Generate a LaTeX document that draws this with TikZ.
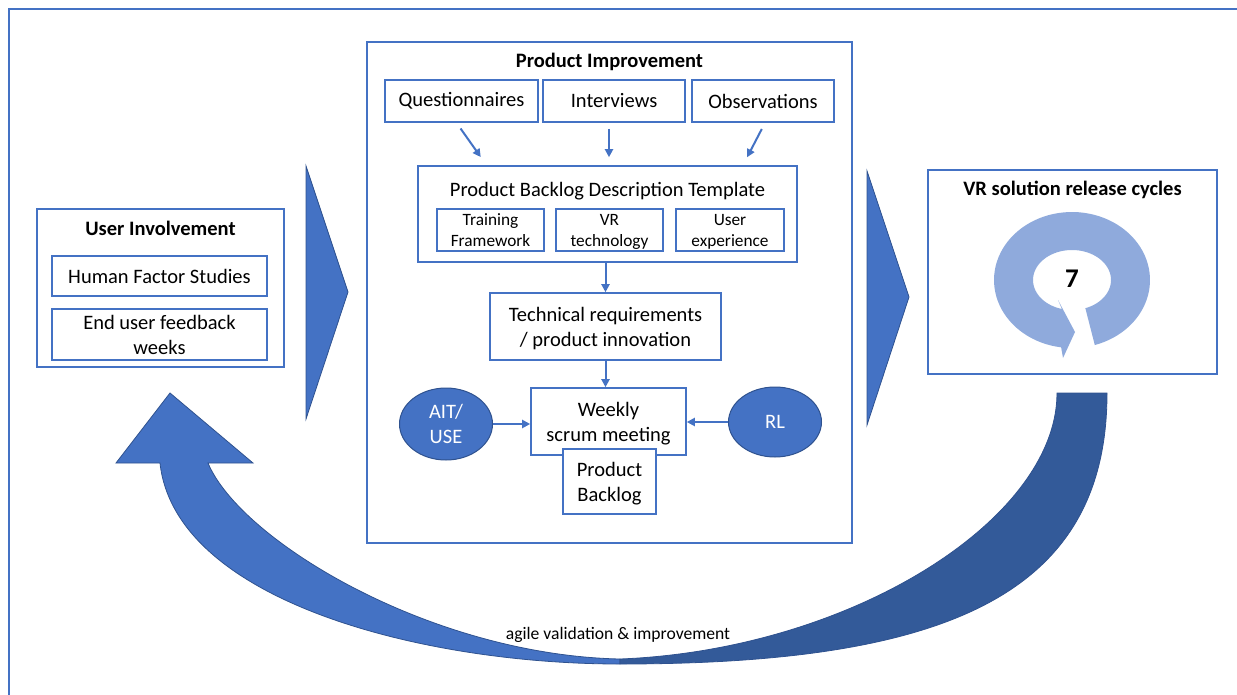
\documentclass[tikz,border=0pt]{standalone}
\usepackage{fontspec}
\setmainfont{Carlito}
\usetikzlibrary{arrows.meta,shapes.geometric}
\definecolor{frameblue}{HTML}{4472C4}
\definecolor{boxline}{HTML}{4472C4}
\definecolor{accent}{HTML}{4472C4}
\definecolor{accentline}{HTML}{2F528F}
\definecolor{darkarm}{HTML}{335A99}
\definecolor{ringblue}{HTML}{8FAADC}
\newcommand\fbig{\fontsize{20.5}{25}\selectfont}
\newcommand\fsmall{\fontsize{17.3}{21}\selectfont}

\begin{document}
\begin{tikzpicture}[x=1pt,y=-1pt,
  box/.style={draw=boxline,line width=1.6pt,fill=white,inner sep=0pt,align=center,font=\fbig},
  title/.style={inner sep=0pt,font=\fbig\bfseries},
  flow/.style={draw=boxline,line width=2pt,-{Triangle[length=8pt,width=8pt]}},
  blob/.style={ellipse,draw=accentline,line width=1pt,fill=accent,text=white,inner sep=0pt,align=center,font=\fbig,minimum width=93pt},
  chev/.style={fill=accent,draw=accentline,line width=0.8pt}]
\useasboundingbox (0,0) rectangle (1237,694);
\clip (0,0) rectangle (1237,694);
\draw[frameblue,line width=2pt] (9,9) rectangle (1260,720);

% user side
\node[box,minimum width=247pt,minimum height=158pt] (ui) at (160.5,288) {};
\node[title] (uititle) at (160.5,228) {User Involvement};
\node[box,minimum width=215pt,minimum height=40pt] (hfs) at (159.5,276) {Human Factor Studies};
\node[box,minimum width=215pt,minimum height=51pt] (euf) at (159.5,334.5) {End user feedback\\weeks};

% big shapes
\filldraw[chev] (306,166) -- (348,292) -- (306,419) -- cycle;
\filldraw[chev] (867,171) -- (909,297) -- (867,425) -- cycle;
\filldraw[chev] (620,664) .. controls (420,664) and (175,600) .. (160,463) -- (116,463) -- (170,393) -- (253,463) -- (208,463) .. controls (240,540) and (430,655) .. (620,659) -- cycle;
\filldraw[chev,fill=darkarm] (620,659) .. controls (850,650) and (1057,520) .. (1057,393) -- (1107,393) .. controls (1107,593) and (950,664) .. (620,664) -- cycle;
\node[font=\fontsize{17.6}{20}\selectfont,inner sep=0pt] (agile) at (618,635) {agile validation \& improvement};

% product improvement
\node[box,minimum width=485pt,minimum height=501pt] (pi) at (609.5,292.5) {};
\node[title] (pititle) at (609.5,62) {Product Improvement};
\node[box,minimum width=153pt,minimum height=42pt] (quest) at (461.5,101) {Questionnaires};
\node[box,minimum width=142pt,minimum height=42pt] (intv) at (614,101) {Interviews};
\node[box,minimum width=142pt,minimum height=42pt] (obs) at (763,101) {Observations};
\node[box,minimum width=379pt,minimum height=96pt] (pbdt) at (607.5,214) {};
\node[inner sep=0pt,font=\fbig] (pbdttitle) at (607.5,191) {Product Backlog Description Template};
\node[box,font=\fsmall,text depth=0pt,minimum width=107pt,minimum height=42pt] (tf) at (490.5,230) {Training\\Framework};
\node[box,font=\fsmall,text depth=0pt,minimum width=107pt,minimum height=42pt] (vrt) at (609.5,230) {VR\\technology};
\node[box,font=\fsmall,text depth=0pt,minimum width=108pt,minimum height=42pt] (ux) at (730,230) {User\\experience};
\node[box,text depth=0pt,minimum width=231pt,minimum height=67pt] (tech) at (605.5,326.5) {Technical requirements\\/ product innovation};
\node[box,text depth=0pt,minimum width=155pt,minimum height=67pt] (weekly) at (608.5,421.5) {Weekly\\scrum meeting};
\node[box,text depth=0pt,minimum width=93pt,minimum height=65pt] (backlog) at (609.5,481.5) {Product\\Backlog};
\node[blob,minimum height=72pt] (ait) at (446,424) {AIT/\\USE};
\node[blob,minimum height=70pt] (rl) at (775,422) {RL};

\draw[flow,shorten <=7pt,shorten >=10pt] ([xshift=-5pt]quest.south) -- ([xshift=-121pt]pbdt.north);
\draw[flow,shorten <=6pt,shorten >=8pt] ([xshift=-5pt]intv.south) -- ([xshift=1.5pt]pbdt.north);
\draw[flow,shorten <=7pt,shorten >=9pt] ([xshift=2pt]obs.south) -- ([xshift=135.5pt]pbdt.north);
\draw[flow] (tech.north |- pbdt.south) -- (tech.north);
\draw[flow] (tech.south) -- (tech.south |- weekly.north);
\draw[flow] (ait.east) -- (ait.east -| weekly.west);
\draw[flow] (rl.west) -- (rl.west -| weekly.east);

% release cycles
\node[box,minimum width=289pt,minimum height=204pt] (vr) at (1072.5,272) {};
\node[title] (vrtitle) at (1072.5,190) {VR solution release cycles};
\fill[ringblue] plot[domain=73:-262,samples=90] ({1072+78*cos(\x)},{280+68*sin(\x)}) -- (1063,358) -- (1075,332) -- (1058,300)
  -- plot[domain=-255:70,samples=90] ({1072+39*cos(\x)},{280+30*sin(\x)}) -- cycle;
\node[font=\fontsize{27}{30}\selectfont\bfseries,inner sep=0pt] (seven) at (1072,279) {7};
\end{tikzpicture}
\end{document}
